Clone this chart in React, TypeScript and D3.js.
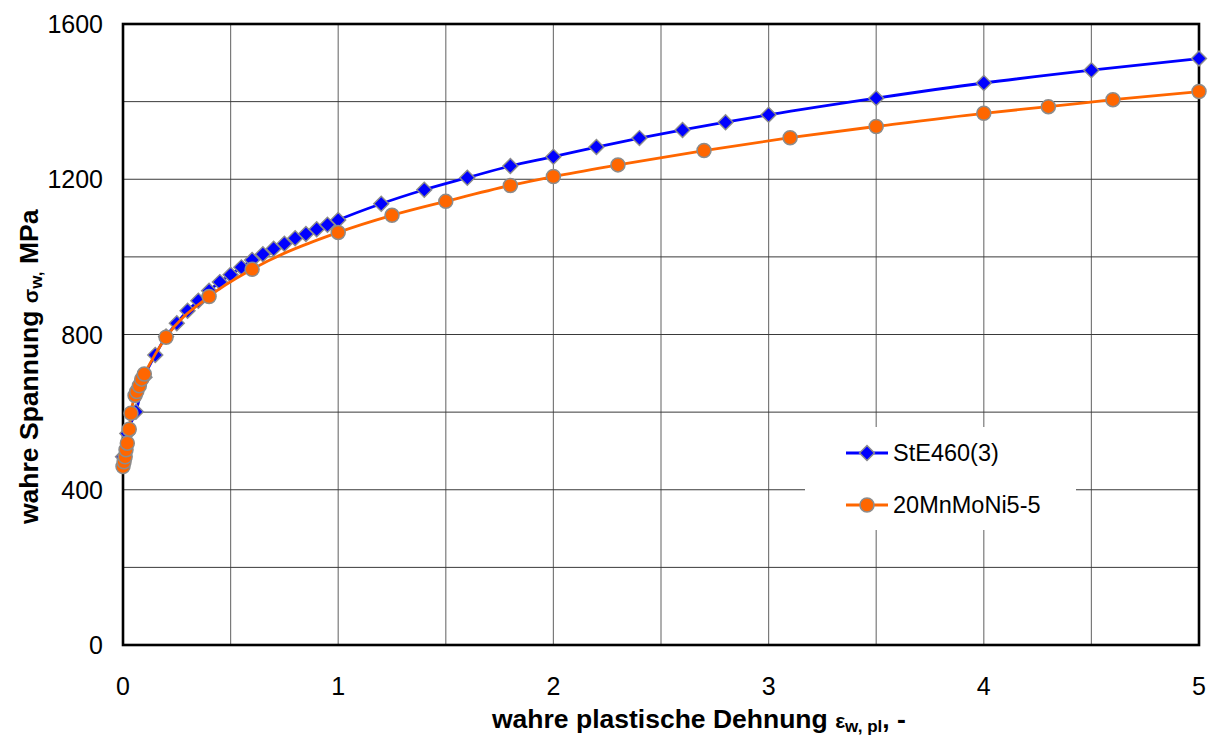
import React from "react";
import * as d3 from "d3";

const blueE = [0, 0.02, 0.06, 0.1, 0.15, 0.2, 0.25, 0.3, 0.35, 0.4, 0.45, 0.5, 0.55, 0.6, 0.65, 0.7, 0.75, 0.8, 0.85, 0.9, 0.95, 1.0, 1.2, 1.4, 1.6, 1.8, 2.0, 2.2, 2.4, 2.6, 2.8, 3.0, 3.5, 4.0, 4.5, 5.0];
const blueS = [485, 545, 601, 690, 747, 795, 829, 861, 887, 913, 935, 954, 973, 992, 1007, 1021, 1034, 1048, 1059, 1071, 1083, 1095, 1137, 1173, 1204, 1234, 1258, 1283, 1306, 1327, 1347, 1366, 1409, 1448, 1481, 1511];

const orangeE = [0, 0.005, 0.01, 0.014, 0.02, 0.029, 0.037, 0.056, 0.064, 0.076, 0.087, 0.099, 0.2, 0.4, 0.6, 1.0, 1.25, 1.5, 1.8, 2.0, 2.3, 2.7, 3.1, 3.5, 4.0, 4.3, 4.6, 5.0];
const orangeS = [460, 472, 485, 503, 520, 556, 597, 643, 653, 668, 685, 698, 793, 898, 968, 1063, 1107, 1143, 1184, 1207, 1237, 1274, 1307, 1336, 1370, 1387, 1405, 1426];

const xTicks = [0, 1, 2, 3, 4, 5];
const yTicks = [0, 400, 800, 1200, 1600];
const xGrid = [0.5, 1, 1.5, 2, 2.5, 3, 3.5, 4, 4.5];
const yGrid = [200, 400, 600, 800, 1000, 1200, 1400];

const seriesNames = ["StE460(3)", "20MnMoNi5-5"];
const BLUE = "#0000ff";
const ORANGE = "#ff6600";
const MARKER_STROKE = "#8c8c8c";

export default function App() {
  const W = 1212, H = 735;
  const L = 123, R = 1199, T = 24, B = 645;
  const x = d3.scaleLinear().domain([0, 5]).range([L, R]);
  const y = d3.scaleLinear().domain([0, 1600]).range([B, T]);
  const line = d3
    .line<[number, number]>()
    .x((d) => x(d[0]))
    .y((d) => y(d[1]))
    .curve(d3.curveMonotoneX);
  const blue: [number, number][] = blueE.map((e, i) => [e, blueS[i]]);
  const orange: [number, number][] = orangeE.map((e, i) => [e, orangeS[i]]);
  const diamond = d3.symbol(d3.symbolSquare, 112)() as string;
  const font = "Liberation Sans, Arial, sans-serif";

  const legX = 805, legW = 271, legY = 427, legH = 103;
  const legRows = [453, 505];

  return (
    <svg width={W} height={H} style={{ position: "absolute", left: 0, top: 0, background: "#fff" }} fontFamily={font}>
      <rect x={0} y={0} width={W} height={H} fill="#fff" />
      {xGrid.map((g) => (
        <line key={"xg" + g} x1={x(g)} x2={x(g)} y1={T} y2={B} stroke="#7a7a7a" strokeWidth={1.2} />
      ))}
      {yGrid.map((g) => (
        <line key={"yg" + g} x1={L} x2={R} y1={y(g)} y2={y(g)} stroke="#3a3a3a" strokeWidth={1} />
      ))}
      <rect x={legX} y={legY} width={legW} height={legH} fill="#fff" />
      <rect x={L} y={T} width={R - L} height={B - T} fill="none" stroke="#000" strokeWidth={2.6} />
      {yTicks.map((t) => (
        <text key={"yt" + t} x={103} y={y(t)} textAnchor="end" dominantBaseline="central" fontSize={25}>
          {t}
        </text>
      ))}
      {xTicks.map((t) => (
        <text key={"xt" + t} x={x(t)} y={686} textAnchor="middle" dominantBaseline="central" fontSize={25}>
          {t}
        </text>
      ))}
      <text x={492} y={728} fontSize={26.5} fontWeight="bold">
        wahre plastische Dehnung{" "}
        <tspan fontSize={21}>ε</tspan>
        <tspan fontSize={17} dy={4}>w, pl</tspan>
        <tspan dy={-4}>, -</tspan>
      </text>
      <text transform={`translate(38,524) rotate(-90)`} fontSize={26.5} fontWeight="bold">
        wahre Spannung <tspan fontSize={21}>σ</tspan>
        <tspan fontSize={17} dy={4}>w,</tspan>
        <tspan dy={-4}> MPa</tspan>
      </text>

      <path d={line(blue) as string} fill="none" stroke={BLUE} strokeWidth={2.8} />
      {blue.map((d, i) => (
        <path key={"bm" + i} d={diamond} transform={`translate(${x(d[0])},${y(d[1])}) rotate(45)`} fill={BLUE} stroke={MARKER_STROKE} strokeWidth={1.4} />
      ))}
      <path d={line(orange) as string} fill="none" stroke={ORANGE} strokeWidth={2.8} />
      {orange.map((d, i) => (
        <circle key={"om" + i} cx={x(d[0])} cy={y(d[1])} r={7} fill={ORANGE} stroke={MARKER_STROKE} strokeWidth={1.5} />
      ))}

      {seriesNames.map((n, i) => (
        <g key={n}>
          <line x1={846} x2={888} y1={legRows[i]} y2={legRows[i]} stroke={i === 0 ? BLUE : ORANGE} strokeWidth={2.8} />
          {i === 0 ? (
            <path d={diamond} transform={`translate(867,${legRows[i]}) rotate(45)`} fill={BLUE} stroke={MARKER_STROKE} strokeWidth={1.4} />
          ) : (
            <circle cx={867} cy={legRows[i]} r={7} fill={ORANGE} stroke={MARKER_STROKE} strokeWidth={1.5} />
          )}
          <text x={893} y={legRows[i]} dominantBaseline="central" fontSize={23.5}>
            {n}
          </text>
        </g>
      ))}
    </svg>
  );
}
